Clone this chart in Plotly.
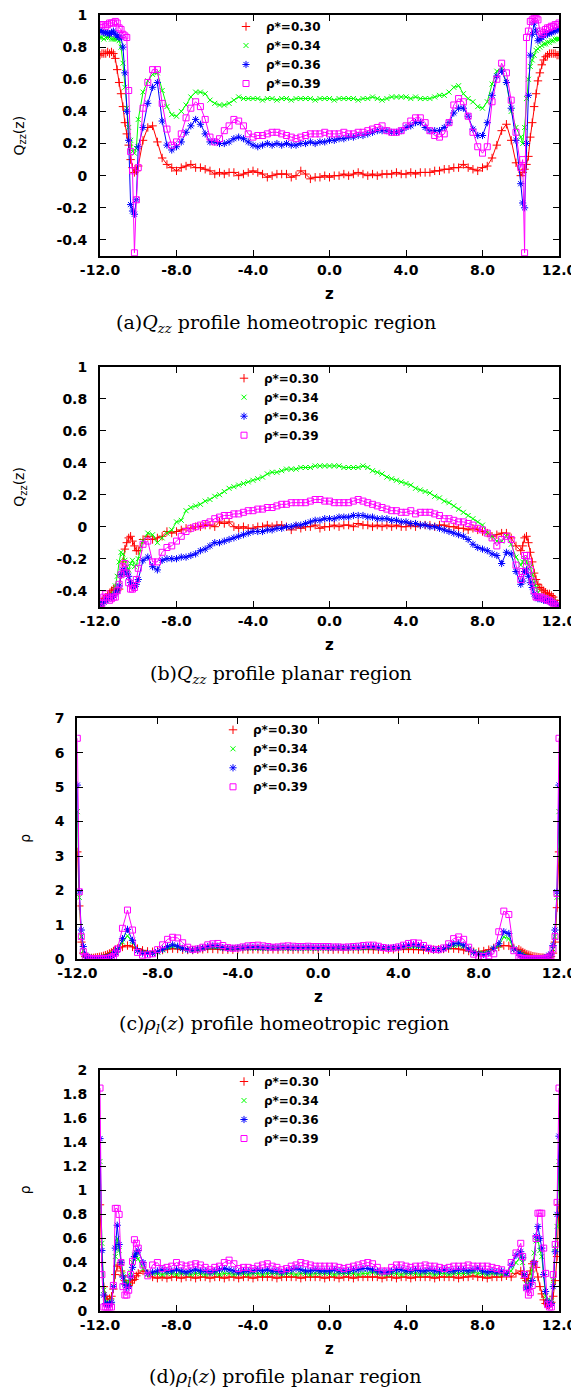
import plotly.graph_objects as go

# ---------------- sample positions (z) ----------------
Z_LEFT = [-12.0, -11.9, -11.8, -11.7, -11.6, -11.5, -11.4, -11.3, -11.2, -11.1,
          -11.0, -10.9, -10.8, -10.7, -10.6, -10.5, -10.4, -10.3, -10.2, -10.1]
Z_MID = [-10.0, -9.75, -9.5, -9.25, -9.0, -8.75, -8.5, -8.25, -8.0, -7.75,
         -7.5, -7.25, -7.0, -6.75, -6.5, -6.25, -6.0, -5.75, -5.5, -5.25,
         -5.0, -4.75, -4.5, -4.25, -4.0, -3.75, -3.5, -3.25, -3.0, -2.75,
         -2.5, -2.25, -2.0, -1.75, -1.5, -1.25, -1.0, -0.75, -0.5, -0.25,
         0.0, 0.25, 0.5, 0.75, 1.0, 1.25, 1.5, 1.75, 2.0, 2.25,
         2.5, 2.75, 3.0, 3.25, 3.5, 3.75, 4.0, 4.25, 4.5, 4.75,
         5.0, 5.25, 5.5, 5.75, 6.0, 6.25, 6.5, 6.75, 7.0, 7.25,
         7.5, 7.75, 8.0, 8.25, 8.5, 8.75, 9.0, 9.25, 9.5, 9.75]
Z_RIGHT = [10.0, 10.1, 10.2, 10.3, 10.4, 10.5, 10.6, 10.7, 10.8, 10.9,
           11.0, 11.1, 11.2, 11.3, 11.4, 11.5, 11.6, 11.7, 11.8, 11.9, 12.0]
Z = Z_LEFT + Z_MID + Z_RIGHT

SERIES_LABELS = ["ρ*=0.30", "ρ*=0.34", "ρ*=0.36", "ρ*=0.39"]

# ---------------- (a) Qzz homeotropic ----------------
QA_030 = [0.75, 0.76, 0.76, 0.76, 0.77, 0.76, 0.77, 0.76, 0.73, 0.66, 0.58, 0.51, 0.43, 0.33, 0.26, 0.19, 0.10, 0.05, 0.02, 0.03,
          0.06, 0.22, 0.30, 0.31,  0.21, 0.11, 0.07, 0.05,  0.03, 0.05, 0.06, 0.07,  0.05, 0.05, 0.04, 0.03,
          0.01, 0.02, 0.01, 0.02,  0.02, 0.00, 0.01, 0.02,  0.03, 0.02, 0.01, -0.01,  0.00, 0.01, 0.01, 0.01,
          -0.01, 0.00, 0.03, 0.01,  -0.02, -0.01, -0.01, 0.00,  -0.01, 0.00, 0.00, 0.01,  0.00, 0.01, 0.02, 0.01,
          0.00, 0.01, 0.00, 0.01,  0.01, 0.01, 0.02, 0.01,  0.01, 0.02, 0.01, 0.02,  0.02, 0.02, 0.03, 0.03,
          0.04, 0.04, 0.05, 0.05,  0.07, 0.05, 0.04, 0.03,  0.05, 0.06, 0.11, 0.19,  0.28, 0.32, 0.22, 0.08,
          0.00, 0.02, 0.04, 0.07, 0.12, 0.24, 0.33, 0.43, 0.51, 0.59, 0.64, 0.69, 0.72, 0.74, 0.75, 0.76, 0.76, 0.76, 0.76, 0.75, 0.75]
QA_034 = [0.86, 0.86, 0.85, 0.86, 0.86, 0.86, 0.85, 0.85, 0.85, 0.85, 0.84, 0.80, 0.70, 0.55, 0.42, 0.30, 0.22, 0.15, 0.14, 0.17,
          0.35, 0.52, 0.59, 0.63,  0.64, 0.53, 0.43, 0.38,  0.37, 0.40, 0.44, 0.49,  0.52, 0.52, 0.51, 0.47,
          0.45, 0.44, 0.44, 0.45,  0.47, 0.49, 0.48, 0.48,  0.48, 0.48, 0.47, 0.48,  0.48, 0.47, 0.48, 0.48,
          0.47, 0.48, 0.48, 0.48,  0.48, 0.47, 0.48, 0.48,  0.48, 0.47, 0.48, 0.48,  0.48, 0.48, 0.47, 0.48,
          0.48, 0.49, 0.48, 0.47,  0.48, 0.49, 0.49, 0.49,  0.49, 0.48, 0.49, 0.48,  0.48, 0.48, 0.49, 0.50,
          0.50, 0.52, 0.55, 0.56,  0.51, 0.48, 0.46, 0.43,  0.42, 0.46, 0.57, 0.65,  0.67, 0.58, 0.40, 0.30,
          0.24, 0.20, 0.30, 0.48, 0.60, 0.68, 0.72, 0.75, 0.78, 0.79, 0.80, 0.81, 0.82, 0.82, 0.83, 0.83, 0.84, 0.84, 0.85, 0.85, 0.85]
QA_036 = [0.90, 0.90, 0.89, 0.89, 0.89, 0.88, 0.89, 0.90, 0.88, 0.87, 0.86, 0.86, 0.80, 0.64, 0.40, 0.22, -0.18, -0.22, -0.24, -0.15,
          0.18, 0.30, 0.45, 0.55,  0.58, 0.34, 0.19, 0.16,  0.18, 0.21, 0.27, 0.31,  0.35, 0.32, 0.26, 0.21,
          0.21, 0.20, 0.20, 0.21,  0.23, 0.24, 0.23, 0.21,  0.19, 0.18, 0.19, 0.20,  0.19, 0.20, 0.19, 0.20,
          0.19, 0.19, 0.20, 0.20,  0.21, 0.20, 0.21, 0.21,  0.22, 0.22, 0.23, 0.23,  0.24, 0.24, 0.25, 0.25,
          0.26, 0.27, 0.28, 0.28,  0.28, 0.27, 0.27, 0.28,  0.30, 0.31, 0.33, 0.33,  0.30, 0.28, 0.28, 0.28,
          0.30, 0.33, 0.39, 0.42,  0.42, 0.37, 0.29, 0.25,  0.25, 0.33, 0.50, 0.62,  0.65, 0.58, 0.42, 0.22,
          -0.05, -0.17, -0.20, 0.20, 0.50, 0.75, 0.88, 0.95, 0.90, 0.84, 0.85, 0.86, 0.87, 0.88, 0.88, 0.89, 0.89, 0.90, 0.90, 0.91, 0.91]
QA_039 = [0.94, 0.94, 0.94, 0.93, 0.94, 0.95, 0.95, 0.95, 0.96, 0.95, 0.92, 0.91, 0.88, 0.87, 0.86, 0.53, 0.15, 0.03, -0.48, -0.15,
          0.05, 0.42, 0.58, 0.66,  0.66, 0.45, 0.29, 0.19,  0.21, 0.26, 0.36, 0.42,  0.46, 0.43, 0.35, 0.24,
          0.21, 0.23, 0.28, 0.31,  0.35, 0.34, 0.31, 0.26,  0.24, 0.25, 0.25, 0.26,  0.27, 0.27, 0.26, 0.25,
          0.24, 0.23, 0.24, 0.25,  0.26, 0.26, 0.26, 0.27,  0.26, 0.26, 0.26, 0.27,  0.26, 0.26, 0.27, 0.27,
          0.28, 0.29, 0.30, 0.31,  0.28, 0.27, 0.27, 0.28,  0.31, 0.34, 0.36, 0.36,  0.33, 0.28, 0.25, 0.24,
          0.26, 0.33, 0.44, 0.48,  0.46, 0.37, 0.27, 0.18,  0.14, 0.18, 0.46, 0.60,  0.70, 0.64, 0.47, 0.27,
          0.05, 0.10, -0.48, 0.86, 0.90, 0.96, 0.97, 0.98, 0.98, 0.97, 0.90, 0.88, 0.89, 0.91, 0.92, 0.92, 0.93, 0.93, 0.94, 0.94, 0.95]

# ---------------- (b) Qzz planar ----------------
QB_030 = [-0.50, -0.47, -0.45, -0.44, -0.43, -0.42, -0.40, -0.39, -0.38, -0.40, -0.39, -0.30, -0.22, -0.14, -0.10, -0.07, -0.06, -0.09, -0.12, -0.15,
          -0.15, -0.08, -0.06, -0.08,  -0.07, -0.06, -0.03, -0.04,  -0.03, -0.02, -0.01, -0.01,  0.00, 0.00, 0.01, 0.01,
          0.00, 0.03, 0.02, 0.03,  0.00, -0.01, 0.00, -0.01,  -0.01, 0.00, 0.00, 0.01,  0.00, 0.01, 0.01, 0.00,
          -0.02, 0.00, -0.01, 0.00,  0.00, 0.01, -0.01, 0.00,  0.00, 0.01, 0.00, 0.01,  0.01, 0.00, 0.02, 0.01,
          0.01, 0.00, 0.01, 0.00,  0.01, 0.00, 0.01, 0.00,  0.00, 0.01, 0.00, 0.01,  0.01, 0.01, 0.00, 0.01,
          0.01, 0.00, 0.00, -0.01,  -0.01, -0.02, -0.01, -0.02,  -0.03, -0.04, -0.06, -0.05,  -0.04, -0.04, -0.07, -0.12,
          -0.15, -0.12, -0.07, -0.06, -0.10, -0.16, -0.22, -0.29, -0.33, -0.36, -0.38, -0.39, -0.40, -0.41, -0.42, -0.42, -0.43, -0.44, -0.46, -0.48, -0.50]
QB_034 = [-0.50, -0.48, -0.47, -0.46, -0.45, -0.44, -0.43, -0.42, -0.37, -0.31, -0.22, -0.16, -0.17, -0.21, -0.25, -0.27, -0.23, -0.21, -0.25, -0.24,
          -0.20, -0.09, -0.04, -0.05,  -0.10, -0.07, -0.04, -0.02,  0.03, 0.04, 0.10, 0.12,  0.13, 0.14, 0.16, 0.17,
          0.19, 0.20, 0.22, 0.24,  0.25, 0.26, 0.27, 0.28,  0.29, 0.30, 0.31, 0.33,  0.34, 0.34, 0.35, 0.36,
          0.36, 0.36, 0.37, 0.37,  0.37, 0.38, 0.38, 0.38,  0.38, 0.38, 0.38, 0.37,  0.37, 0.37, 0.37, 0.38,
          0.37, 0.35, 0.34, 0.33,  0.31, 0.30, 0.29, 0.28,  0.27, 0.26, 0.24, 0.23,  0.22, 0.21, 0.19, 0.18,
          0.16, 0.15, 0.13, 0.11,  0.09, 0.07, 0.05, 0.03,  0.01, -0.04, -0.06, -0.09,  -0.09, -0.06, -0.11, -0.19,
          -0.24, -0.22, -0.20, -0.22, -0.24, -0.25, -0.30, -0.35, -0.38, -0.41, -0.43, -0.44, -0.44, -0.45, -0.45, -0.46, -0.46, -0.47, -0.48, -0.49, -0.50]
QB_036 = [-0.50, -0.48, -0.47, -0.46, -0.45, -0.44, -0.44, -0.43, -0.42, -0.40, -0.37, -0.30, -0.27, -0.27, -0.29, -0.31, -0.35, -0.37, -0.37, -0.36,
          -0.33, -0.21, -0.19, -0.25,  -0.27, -0.21, -0.20, -0.20,  -0.20, -0.19, -0.19, -0.18,  -0.17, -0.15, -0.14, -0.12,
          -0.10, -0.10, -0.09, -0.08,  -0.07, -0.06, -0.05, -0.04,  -0.03, -0.03, -0.03, -0.02,  -0.02, -0.01, -0.01, 0.00,
          0.00, 0.01, 0.01, 0.02,  0.03, 0.04, 0.04, 0.05,  0.05, 0.05, 0.06, 0.06,  0.06, 0.07, 0.07, 0.07,
          0.06, 0.06, 0.05, 0.05,  0.05, 0.04, 0.04, 0.03,  0.03, 0.02, 0.02, 0.01,  0.01, 0.00, 0.00, -0.01,
          -0.02, -0.03, -0.04, -0.05,  -0.06, -0.08, -0.11, -0.13,  -0.14, -0.15, -0.17, -0.18,  -0.23, -0.16, -0.17, -0.28,
          -0.36, -0.34, -0.28, -0.27, -0.31, -0.35, -0.38, -0.42, -0.44, -0.45, -0.45, -0.45, -0.46, -0.46, -0.46, -0.47, -0.47, -0.48, -0.48, -0.49, -0.50]
QB_039 = [-0.50, -0.48, -0.44, -0.42, -0.44, -0.46, -0.45, -0.44, -0.44, -0.40, -0.36, -0.30, -0.25, -0.23, -0.29, -0.35, -0.39, -0.39, -0.38, -0.33,
          -0.26, -0.11, -0.09, -0.22,  -0.22, -0.16, -0.13, -0.12,  -0.09, -0.06, -0.03, -0.01,  0.00, 0.01, 0.02, 0.03,
          0.05, 0.06, 0.07, 0.07,  0.08, 0.08, 0.09, 0.10,  0.10, 0.11, 0.11, 0.12,  0.12, 0.13, 0.14, 0.14,
          0.15, 0.15, 0.15, 0.15,  0.16, 0.17, 0.17, 0.16,  0.16, 0.15, 0.15, 0.15,  0.15, 0.16, 0.17, 0.16,
          0.15, 0.14, 0.13, 0.12,  0.11, 0.10, 0.10, 0.09,  0.09, 0.10, 0.08, 0.09,  0.09, 0.09, 0.08, 0.07,
          0.05, 0.05, 0.04, 0.03,  0.03, 0.02, 0.01, -0.01,  -0.02, -0.04, -0.07, -0.12,  -0.08, -0.06, -0.08, -0.24,
          -0.33, -0.28, -0.18, -0.18, -0.22, -0.27, -0.34, -0.40, -0.44, -0.44, -0.44, -0.44, -0.45, -0.45, -0.46, -0.46, -0.47, -0.48, -0.49, -0.50, -0.50]

# ---------------- (c) rho homeotropic ----------------
RC_030 = [3.12, 1.55, 0.50, 0.18, 0.08, 0.05, 0.04, 0.04, 0.04, 0.05, 0.06, 0.07, 0.08, 0.10, 0.12, 0.14, 0.17, 0.20, 0.24, 0.28,
          0.31, 0.36, 0.40, 0.36,  0.31, 0.26, 0.23, 0.22,  0.24, 0.27, 0.30, 0.31,  0.30, 0.28, 0.27, 0.27,
          0.28, 0.29, 0.30, 0.30,  0.29, 0.28, 0.28, 0.28,  0.29, 0.29, 0.28, 0.29,  0.29, 0.28, 0.28, 0.29,
          0.28, 0.29, 0.28, 0.28,  0.29, 0.28, 0.29, 0.28,  0.28, 0.29, 0.28, 0.28,  0.29, 0.28, 0.28, 0.29,
          0.28, 0.29, 0.29, 0.28,  0.28, 0.28, 0.29, 0.29,  0.29, 0.30, 0.30, 0.29,  0.28, 0.27, 0.27, 0.28,
          0.29, 0.30, 0.31, 0.31,  0.30, 0.27, 0.24, 0.22,  0.22, 0.24, 0.28, 0.33,  0.36, 0.40, 0.39, 0.33,
          0.29, 0.25, 0.21, 0.18, 0.15, 0.13, 0.11, 0.09, 0.08, 0.07, 0.06, 0.05, 0.05, 0.04, 0.04, 0.05, 0.08, 0.18, 0.50, 1.50, 3.12]
RC_034 = [4.29, 1.80, 0.66, 0.25, 0.10, 0.05, 0.03, 0.03, 0.03, 0.03, 0.03, 0.04, 0.04, 0.05, 0.07, 0.08, 0.10, 0.13, 0.17, 0.22,
          0.26, 0.50, 0.68, 0.50,  0.25, 0.19, 0.18, 0.18,  0.21, 0.27, 0.34, 0.38,  0.36, 0.32, 0.28, 0.27,
          0.28, 0.31, 0.34, 0.36,  0.36, 0.33, 0.31, 0.31,  0.32, 0.32, 0.33, 0.33,  0.33, 0.32, 0.32, 0.32,
          0.32, 0.32, 0.33, 0.32,  0.32, 0.32, 0.32, 0.32,  0.32, 0.33, 0.32, 0.32,  0.32, 0.32, 0.32, 0.33,
          0.33, 0.33, 0.34, 0.34,  0.33, 0.32, 0.32, 0.32,  0.33, 0.35, 0.37, 0.38,  0.37, 0.34, 0.31, 0.29,
          0.29, 0.31, 0.35, 0.40,  0.42, 0.38, 0.30, 0.22,  0.18, 0.17, 0.20, 0.30,  0.40, 0.65, 0.60, 0.30,
          0.20, 0.15, 0.12, 0.09, 0.07, 0.05, 0.04, 0.03, 0.03, 0.03, 0.03, 0.03, 0.03, 0.04, 0.05, 0.08, 0.12, 0.30, 0.66, 1.80, 4.29]
RC_036 = [5.06, 1.96, 0.85, 0.37, 0.12, 0.06, 0.04, 0.03, 0.02, 0.02, 0.02, 0.02, 0.03, 0.03, 0.04, 0.05, 0.07, 0.10, 0.14, 0.20,
          0.28, 0.60, 0.87, 0.55,  0.25, 0.18, 0.17, 0.17,  0.22, 0.29, 0.37, 0.42,  0.38, 0.32, 0.28, 0.27,
          0.30, 0.33, 0.37, 0.39,  0.38, 0.34, 0.32, 0.32,  0.33, 0.34, 0.35, 0.35,  0.35, 0.34, 0.34, 0.34,
          0.34, 0.35, 0.34, 0.34,  0.34, 0.34, 0.35, 0.34,  0.34, 0.35, 0.34, 0.34,  0.35, 0.34, 0.34, 0.35,
          0.35, 0.36, 0.37, 0.37,  0.35, 0.34, 0.33, 0.34,  0.35, 0.38, 0.41, 0.42,  0.40, 0.35, 0.31, 0.28,
          0.28, 0.31, 0.38, 0.45,  0.47, 0.41, 0.30, 0.20,  0.15, 0.14, 0.18, 0.32,  0.45, 0.80, 0.75, 0.30,
          0.18, 0.12, 0.08, 0.05, 0.04, 0.03, 0.02, 0.02, 0.02, 0.02, 0.02, 0.02, 0.03, 0.04, 0.06, 0.12, 0.15, 0.40, 0.85, 1.96, 5.06]
RC_039 = [6.42, 1.96, 0.66, 0.22, 0.08, 0.03, 0.02, 0.01, 0.01, 0.01, 0.01, 0.01, 0.01, 0.01, 0.02, 0.02, 0.03, 0.05, 0.08, 0.18,
          0.30, 0.90, 1.43, 0.85,  0.20, 0.12, 0.13, 0.16,  0.28, 0.42, 0.58, 0.64,  0.62, 0.48, 0.35, 0.29,
          0.30, 0.35, 0.42, 0.45,  0.46, 0.40, 0.34, 0.32,  0.33, 0.36, 0.39, 0.40,  0.41, 0.39, 0.37, 0.35,
          0.36, 0.38, 0.39, 0.38,  0.37, 0.37, 0.38, 0.37,  0.37, 0.37, 0.37, 0.36,  0.36, 0.35, 0.36, 0.37,
          0.38, 0.40, 0.41, 0.41,  0.38, 0.34, 0.32, 0.33,  0.36, 0.41, 0.46, 0.48,  0.47, 0.40, 0.32, 0.29,
          0.28, 0.33, 0.45, 0.60,  0.65, 0.58, 0.35, 0.15,  0.09, 0.08, 0.10, 0.16,  0.80, 1.40, 1.30, 0.25,
          0.05, 0.03, 0.02, 0.02, 0.01, 0.01, 0.01, 0.01, 0.01, 0.01, 0.01, 0.01, 0.01, 0.02, 0.03, 0.06, 0.10, 0.30, 0.66, 1.91, 6.42]

# ---------------- (d) rho planar ----------------
RD_030 = [0.88, 0.40, 0.20, 0.12, 0.09, 0.10, 0.12, 0.18, 0.30, 0.37, 0.38, 0.33, 0.29, 0.25, 0.22, 0.21, 0.23, 0.25, 0.26, 0.29,
          0.31, 0.33, 0.31, 0.28,  0.27, 0.28, 0.27, 0.28,  0.28, 0.27, 0.28, 0.28,  0.27, 0.28, 0.28, 0.27,
          0.28, 0.28, 0.27, 0.28,  0.28, 0.27, 0.28, 0.28,  0.27, 0.28, 0.28, 0.28,  0.28, 0.27, 0.28, 0.28,
          0.28, 0.28, 0.27, 0.28,  0.28, 0.28, 0.28, 0.27,  0.28, 0.28, 0.27, 0.28,  0.28, 0.27, 0.28, 0.28,
          0.28, 0.28, 0.28, 0.27,  0.28, 0.28, 0.27, 0.28,  0.28, 0.27, 0.28, 0.28,  0.28, 0.28, 0.27, 0.28,
          0.28, 0.28, 0.28, 0.27,  0.28, 0.28, 0.29, 0.28,  0.28, 0.27, 0.28, 0.28,  0.28, 0.29, 0.28, 0.31,
          0.33, 0.30, 0.27, 0.25, 0.27, 0.33, 0.39, 0.41, 0.36, 0.28, 0.20, 0.14, 0.09, 0.06, 0.05, 0.05, 0.07, 0.12, 0.25, 0.45, 0.88]
RD_034 = [1.24, 0.56, 0.17, 0.07, 0.06, 0.06, 0.08, 0.20, 0.45, 0.60, 0.50, 0.40, 0.30, 0.23, 0.21, 0.24, 0.32, 0.40, 0.46, 0.48,
          0.43, 0.35, 0.30, 0.31,  0.31, 0.30, 0.31, 0.31,  0.30, 0.31, 0.31, 0.30,  0.31, 0.31, 0.30, 0.31,
          0.31, 0.30, 0.31, 0.31,  0.30, 0.31, 0.31, 0.30,  0.31, 0.31, 0.30, 0.31,  0.31, 0.31, 0.30, 0.31,
          0.31, 0.30, 0.31, 0.31,  0.30, 0.31, 0.31, 0.31,  0.31, 0.30, 0.31, 0.31,  0.31, 0.31, 0.30, 0.31,
          0.31, 0.32, 0.31, 0.31,  0.30, 0.31, 0.31, 0.30,  0.31, 0.31, 0.31, 0.30,  0.31, 0.31, 0.30, 0.31,
          0.31, 0.30, 0.31, 0.31,  0.31, 0.31, 0.32, 0.31,  0.31, 0.30, 0.31, 0.31,  0.30, 0.30, 0.33, 0.40,
          0.45, 0.40, 0.30, 0.22, 0.20, 0.24, 0.34, 0.48, 0.58, 0.59, 0.50, 0.45, 0.30, 0.12, 0.09, 0.07, 0.08, 0.25, 0.52, 0.70, 1.24]
RD_036 = [1.43, 0.50, 0.13, 0.06, 0.05, 0.05, 0.07, 0.20, 0.52, 0.71, 0.55, 0.40, 0.28, 0.22, 0.19, 0.20, 0.28, 0.36, 0.45, 0.48,
          0.50, 0.40, 0.31, 0.32,  0.33, 0.34, 0.33, 0.33,  0.34, 0.33, 0.32, 0.33,  0.34, 0.33, 0.33, 0.32,
          0.33, 0.34, 0.35, 0.34,  0.33, 0.32, 0.33, 0.33,  0.33, 0.34, 0.33, 0.34,  0.33, 0.33, 0.32, 0.33,
          0.34, 0.35, 0.34, 0.33,  0.33, 0.34, 0.33, 0.33,  0.33, 0.34, 0.33, 0.33,  0.33, 0.34, 0.34, 0.35,
          0.35, 0.34, 0.33, 0.32,  0.32, 0.33, 0.34, 0.34,  0.33, 0.33, 0.34, 0.33,  0.33, 0.34, 0.33, 0.33,
          0.34, 0.33, 0.33, 0.34,  0.34, 0.33, 0.34, 0.35,  0.33, 0.32, 0.33, 0.32,  0.33, 0.31, 0.38, 0.46,
          0.49, 0.44, 0.30, 0.19, 0.18, 0.22, 0.25, 0.40, 0.62, 0.70, 0.60, 0.52, 0.30, 0.16, 0.08, 0.05, 0.06, 0.20, 0.49, 0.80, 1.45]
RD_039 = [1.85, 0.30, 0.03, 0.03, 0.03, 0.03, 0.03, 0.21, 0.85, 0.85, 0.80, 0.40, 0.20, 0.13, 0.13, 0.17, 0.30, 0.41, 0.59, 0.56,
          0.52, 0.38, 0.29, 0.38,  0.40, 0.35, 0.36, 0.37,  0.40, 0.38, 0.37, 0.38,  0.39, 0.38, 0.36, 0.34,
          0.36, 0.37, 0.40, 0.42,  0.39, 0.35, 0.36, 0.36,  0.35, 0.37, 0.38, 0.39,  0.37, 0.36, 0.34, 0.35,
          0.37, 0.38, 0.40, 0.39,  0.38, 0.37, 0.37, 0.37,  0.37, 0.37, 0.36, 0.35,  0.36, 0.37, 0.38, 0.39,
          0.40, 0.39, 0.36, 0.33,  0.33, 0.36, 0.38, 0.38,  0.37, 0.36, 0.37, 0.37,  0.38, 0.37, 0.37, 0.36,
          0.35, 0.36, 0.37, 0.37,  0.37, 0.38, 0.37, 0.37,  0.37, 0.37, 0.36, 0.35,  0.34, 0.31, 0.40, 0.48,
          0.56, 0.45, 0.30, 0.19, 0.13, 0.15, 0.21, 0.38, 0.60, 0.81, 0.81, 0.81, 0.52, 0.31, 0.05, 0.03, 0.03, 0.30, 0.55, 0.90, 1.85]

# ---------------- ticks ----------------
X_TICKS = [-12, -8, -4, 0, 4, 8, 12]
X_TICK_TEXT = ["-12.0", "-8.0", "-4.0", "0.0", "4.0", "8.0", "12.0"]
Q_TICKS = [-0.4, -0.2, 0.0, 0.2, 0.4, 0.6, 0.8, 1.0]
Q_TICK_TEXT = ["-0.4", "-0.2", "0", "0.2", "0.4", "0.6", "0.8", "1"]
RC_TICKS = [0, 1, 2, 3, 4, 5, 6, 7]
RC_TICK_TEXT = ["0", "1", "2", "3", "4", "5", "6", "7"]
RD_TICKS = [0, 0.2, 0.4, 0.6, 0.8, 1.0, 1.2, 1.4, 1.6, 1.8, 2.0]
RD_TICK_TEXT = ["0", "0.2", "0.4", "0.6", "0.8", "1", "1.2", "1.4", "1.6", "1.8", "2"]

# ---------------- styling ----------------
PAGE_W, PAGE_H = 579, 1389
OFF = 8                      # default <body> margin of the generated page
W, H = PAGE_W - OFF, PAGE_H - OFF
COLORS = ["#ff0000", "#00ff00", "#0000ff", "#ff00ff"]
SYMBOLS = ["cross-thin", "x-thin", "asterisk", "square-open"]
MSIZES = [6, 5, 6, 6]
SANS = "DejaVu Sans"
SERIF = "DejaVu Serif"


def fx(p):
    """page pixel x -> paper fraction"""
    return (p - OFF) / W


def fy(p):
    """page pixel y -> paper fraction"""
    return 1 - (p - OFF) / H


panels = [
    dict(series=[QA_030, QA_034, QA_036, QA_039], x=(100, 559), y=(15, 256), yr=[-0.5, 1.0],
         yt=Q_TICKS, ytt=Q_TICK_TEXT, ytitle="Q<sub>zz</sub>(z)", ytx=20, leg_x=226,
         caption="(a)<i>Q</i><sub><i>zz</i></sub> profile homeotropic region", cap_y=323, cap_x=276),
    dict(series=[QB_030, QB_034, QB_036, QB_039], x=(100, 559), y=(366.7, 606.7), yr=[-0.5, 1.0],
         yt=Q_TICKS, ytt=Q_TICK_TEXT, ytitle="Q<sub>zz</sub>(z)", ytx=20, leg_x=224,
         caption="(b)<i>Q</i><sub><i>zz</i></sub> profile planar region", cap_y=674, cap_x=281),
    dict(series=[RC_030, RC_034, RC_036, RC_039], x=(77.3, 559), y=(718.3, 959.3), yr=[0, 7],
         yt=RC_TICKS, ytt=RC_TICK_TEXT, ytitle="ρ", ytx=25, leg_x=213,
         caption="(c)<i>ρ</i><sub><i>l</i></sub>(<i>z</i>) profile homeotropic region", cap_y=1024, cap_x=284),
    dict(series=[RD_030, RD_034, RD_036, RD_039], x=(100, 559), y=(1070, 1310.7), yr=[0, 2],
         yt=RD_TICKS, ytt=RD_TICK_TEXT, ytitle="ρ", ytx=25, leg_x=224,
         caption="(d)<i>ρ</i><sub><i>l</i></sub>(<i>z</i>) profile planar region", cap_y=1377, cap_x=285),
]

fig = go.Figure()
annotations = []
layout_axes = {}

for i, p in enumerate(panels):
    n = i + 1
    xa = "x" if n == 1 else f"x{n}"
    ya = "y" if n == 1 else f"y{n}"
    lg = "legend" if n == 1 else f"legend{n}"
    for k, vals in enumerate(p["series"]):
        if len(vals) != len(Z):
            raise ValueError(f"panel {n} series {k}: {len(vals)} values vs {len(Z)}")
        marker = dict(symbol=SYMBOLS[k], size=MSIZES[k], color=COLORS[k],
                      line=dict(color=COLORS[k], width=1))
        fig.add_trace(go.Scatter(
            x=Z, y=vals, mode="lines+markers", name=SERIES_LABELS[k],
            xaxis=xa, yaxis=ya, showlegend=False, legendgroup=f"p{n}s{k}",
            line=dict(color=COLORS[k], width=1), marker=marker,
        ))
        # legend key: point symbol only (as in the gnuplot key)
        fig.add_trace(go.Scatter(
            x=[None], y=[None], mode="markers", name=SERIES_LABELS[k],
            xaxis=xa, yaxis=ya, legend=lg, legendgroup=f"p{n}s{k}", marker=marker,
        ))
    axis_common = dict(showline=True, linecolor="black", linewidth=2, mirror="ticks",
                       ticks="inside", ticklen=6, tickwidth=1, tickcolor="black",
                       showgrid=False, zeroline=False, automargin=False,
                       ticklabeloverflow="allow",
                       tickfont=dict(family=SANS, size=14, color="black", weight="bold"))
    layout_axes[f"xaxis{'' if n == 1 else n}"] = dict(
        axis_common, domain=[fx(p["x"][0]), fx(p["x"][1])], range=[-12, 12],
        anchor=ya, tickmode="array", tickvals=X_TICKS, ticktext=X_TICK_TEXT,
        ticklabelstandoff=0)
    layout_axes[f"yaxis{'' if n == 1 else n}"] = dict(
        axis_common, domain=[fy(p["y"][1]), fy(p["y"][0])], range=p["yr"],
        anchor=xa, tickmode="array", tickvals=p["yt"], ticktext=p["ytt"],
        ticklabelstandoff=8)
    layout_axes[lg] = dict(
        x=fx(p["leg_x"]), y=fy(p["y"][0] - 3), xanchor="left", yanchor="top",
        bgcolor="rgba(0,0,0,0)", borderwidth=0, itemwidth=30,
        font=dict(family=SANS, size=12, color="black", weight="bold"),
        tracegroupgap=0)
    ymid = (p["y"][0] + p["y"][1]) / 2
    xmid = (p["x"][0] + p["x"][1]) / 2
    annotations.append(dict(text=p["ytitle"], x=fx(p["ytx"]), y=fy(ymid), xref="paper", yref="paper",
                            showarrow=False, textangle=-90, xanchor="center", yanchor="middle",
                            font=dict(family=SANS, size=14, color="black")))
    annotations.append(dict(text="z", x=fx(xmid), y=fy(p["y"][1] + 38), xref="paper", yref="paper",
                            showarrow=False, xanchor="center", yanchor="middle",
                            font=dict(family=SANS, size=15, color="black", weight="bold")))
    annotations.append(dict(text=p["caption"], x=fx(p["cap_x"]), y=fy(p["cap_y"]), xref="paper", yref="paper",
                            showarrow=False, xanchor="center", yanchor="middle",
                            font=dict(family=SERIF, size=19, color="black")))

fig.update_layout(
    width=W, height=H, margin=dict(l=0, r=0, t=0, b=0, autoexpand=False),
    paper_bgcolor="white", plot_bgcolor="white",
    annotations=annotations, showlegend=True,
    **layout_axes,
)

fig.write_html("out.html")
